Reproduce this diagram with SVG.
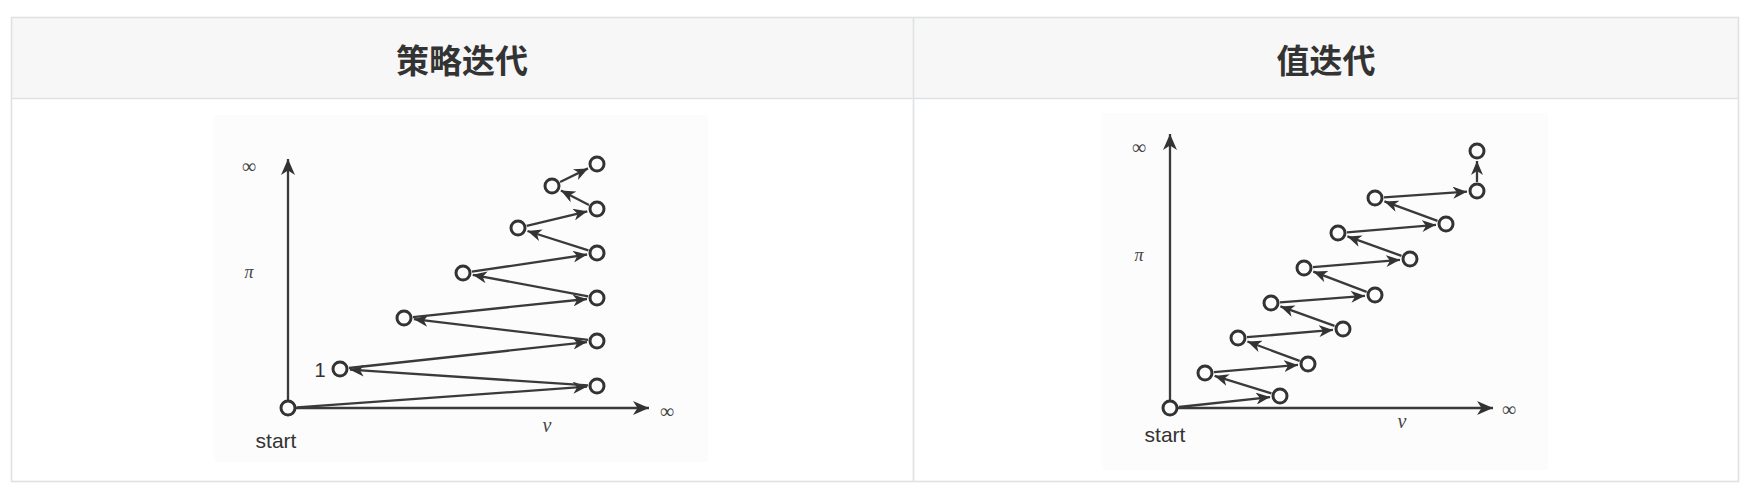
<svg xmlns="http://www.w3.org/2000/svg" width="1761" height="492" viewBox="0 0 1761 492">
<defs>
<style>
.tb{stroke:#dfe2e5;stroke-width:1.6;fill:none}
.hd{font-family:"Noto Sans CJK SC","Noto Sans",sans-serif;font-weight:bold;font-size:33px;fill:#333;text-anchor:middle;dominant-baseline:central}
.ax{stroke:#3a3a3a;stroke-width:2.3;fill:none}
.ed{stroke:#3a3a3a;stroke-width:2.3;fill:none}
.nd{fill:none;stroke:#333;stroke-width:3}
.ser{font-family:"Liberation Serif","DejaVu Serif",serif;fill:#444}
.sans{font-family:"Liberation Sans",Arial,sans-serif;fill:#333}
</style>
<marker id="ah" markerUnits="userSpaceOnUse" markerWidth="15" markerHeight="12" refX="14" refY="6" orient="auto" viewBox="0 0 15 12">
<path d="M0,0 L14,6 L0,12 L4,6 Z" fill="#333"/>
</marker>
<marker id="axh" markerUnits="userSpaceOnUse" markerWidth="17" markerHeight="14" refX="16" refY="7" orient="auto" viewBox="0 0 17 14">
<path d="M0,0 L16,7 L0,14 L4.5,7 Z" fill="#333"/>
</marker>
</defs>

<g id="table">
<rect x="11.5" y="17.5" width="1727" height="81" fill="#f7f7f7"/>
<rect x="11.5" y="98.5" width="1727" height="383" fill="#ffffff"/>
<rect x="214" y="115" width="494" height="347" fill="#fcfcfc"/>
<rect x="1102" y="113" width="446" height="357" fill="#fcfcfc"/>
<rect class="tb" x="11.5" y="17.5" width="1727" height="464"/>
<line class="tb" x1="11.5" y1="98.5" x2="1738.5" y2="98.5"/>
<line class="tb" x1="913.5" y1="17.5" x2="913.5" y2="481.5"/>
<text class="hd" x="462" y="59">策略迭代</text>
<text class="hd" x="1326" y="59">值迭代</text>
</g>

<g id="left-axes">
<line class="ax" x1="288" y1="400" x2="288" y2="159" marker-end="url(#axh)"/>
<line class="ax" x1="296" y1="408" x2="649" y2="408" marker-end="url(#axh)"/>
<text class="ser" x="249" y="173" font-size="20" text-anchor="middle">∞</text>
<text class="ser" x="249" y="278" font-size="18" font-style="italic" text-anchor="middle">π</text>
<text class="ser" x="667" y="418" font-size="20" text-anchor="middle">∞</text>
<text class="ser" x="547" y="432" font-size="20" font-style="italic" text-anchor="middle">v</text>
<text class="sans" x="276" y="448" font-size="21" text-anchor="middle">start</text>
<text class="sans" x="320" y="377" font-size="20" text-anchor="middle">1</text>
</g>

<g id="left-nodes">
<circle id="L-O" class="nd" cx="288" cy="408" r="7"/>
<circle id="L-R1" class="nd" cx="597" cy="386" r="7"/>
<circle id="L-N1" class="nd" cx="340" cy="369" r="7"/>
<circle id="L-R2" class="nd" cx="597" cy="341" r="7"/>
<circle id="L-L2" class="nd" cx="404" cy="318" r="7"/>
<circle id="L-R3" class="nd" cx="597" cy="298" r="7"/>
<circle id="L-L3" class="nd" cx="463" cy="273" r="7"/>
<circle id="L-R4" class="nd" cx="597" cy="253" r="7"/>
<circle id="L-L4" class="nd" cx="518" cy="228" r="7"/>
<circle id="L-R5" class="nd" cx="597" cy="209" r="7"/>
<circle id="L-L5" class="nd" cx="552" cy="186" r="7"/>
<circle id="L-R6" class="nd" cx="597" cy="164" r="7"/>
</g>

<g id="left-connectors">
<line class="ed" x1="297" y1="407.4" x2="587" y2="386.7" marker-end="url(#ah)"/>
<line class="ed" x1="588" y1="385.4" x2="350" y2="369.7" marker-end="url(#ah)"/>
<line class="ed" x1="349" y1="368" x2="587" y2="342.1" marker-end="url(#ah)"/>
<line class="ed" x1="588.1" y1="339.9" x2="413.9" y2="319.2" marker-end="url(#ah)"/>
<line class="ed" x1="413" y1="317.1" x2="587" y2="299" marker-end="url(#ah)"/>
<line class="ed" x1="588.2" y1="296.4" x2="472.8" y2="274.8" marker-end="url(#ah)"/>
<line class="ed" x1="471.9" y1="271.7" x2="587.1" y2="254.5" marker-end="url(#ah)"/>
<line class="ed" x1="588.4" y1="250.3" x2="527.5" y2="231" marker-end="url(#ah)"/>
<line class="ed" x1="526.7" y1="225.9" x2="587.3" y2="211.3" marker-end="url(#ah)"/>
<line class="ed" x1="589" y1="204.9" x2="560.9" y2="190.6" marker-end="url(#ah)"/>
<line class="ed" x1="560.1" y1="182" x2="588" y2="168.4" marker-end="url(#ah)"/>
</g>

<g id="right-axes">
<line class="ax" x1="1170" y1="400" x2="1170" y2="134" marker-end="url(#axh)"/>
<line class="ax" x1="1178" y1="408" x2="1493" y2="408" marker-end="url(#axh)"/>
<text class="ser" x="1139" y="154" font-size="20" text-anchor="middle">∞</text>
<text class="ser" x="1139" y="261" font-size="18" font-style="italic" text-anchor="middle">π</text>
<text class="ser" x="1509" y="416" font-size="20" text-anchor="middle">∞</text>
<text class="ser" x="1402" y="428" font-size="20" font-style="italic" text-anchor="middle">v</text>
<text class="sans" x="1165" y="442" font-size="21" text-anchor="middle">start</text>
</g>

<g id="right-nodes">
<circle id="R-O" class="nd" cx="1170" cy="408" r="7"/>
<circle id="R-A1" class="nd" cx="1280" cy="396" r="7"/>
<circle id="R-B1" class="nd" cx="1205" cy="373" r="7"/>
<circle id="R-A2" class="nd" cx="1308" cy="364" r="7"/>
<circle id="R-B2" class="nd" cx="1238" cy="338" r="7"/>
<circle id="R-A3" class="nd" cx="1343" cy="329" r="7"/>
<circle id="R-B3" class="nd" cx="1271" cy="303" r="7"/>
<circle id="R-A4" class="nd" cx="1375" cy="295" r="7"/>
<circle id="R-B4" class="nd" cx="1304" cy="268" r="7"/>
<circle id="R-A5" class="nd" cx="1410" cy="259" r="7"/>
<circle id="R-B5" class="nd" cx="1338" cy="233" r="7"/>
<circle id="R-A6" class="nd" cx="1446" cy="224" r="7"/>
<circle id="R-B6" class="nd" cx="1375" cy="198" r="7"/>
<circle id="R-A7" class="nd" cx="1477" cy="191" r="7"/>
<circle id="R-A8" class="nd" cx="1477" cy="151" r="7"/>
</g>

<g id="right-connectors">
<line class="ed" x1="1179" y1="407" x2="1270.1" y2="397.1" marker-end="url(#ah)"/>
<line class="ed" x1="1271.4" y1="393.4" x2="1214.6" y2="375.9" marker-end="url(#ah)"/>
<line class="ed" x1="1214" y1="372.2" x2="1298" y2="364.9" marker-end="url(#ah)"/>
<line class="ed" x1="1299.6" y1="360.9" x2="1247.4" y2="341.5" marker-end="url(#ah)"/>
<line class="ed" x1="1247" y1="337.2" x2="1333" y2="329.9" marker-end="url(#ah)"/>
<line class="ed" x1="1334.5" y1="325.9" x2="1280.4" y2="306.4" marker-end="url(#ah)"/>
<line class="ed" x1="1280" y1="302.3" x2="1365" y2="295.8" marker-end="url(#ah)"/>
<line class="ed" x1="1366.6" y1="291.8" x2="1313.3" y2="271.6" marker-end="url(#ah)"/>
<line class="ed" x1="1313" y1="267.2" x2="1400" y2="259.8" marker-end="url(#ah)"/>
<line class="ed" x1="1401.5" y1="255.9" x2="1347.4" y2="236.4" marker-end="url(#ah)"/>
<line class="ed" x1="1347" y1="232.3" x2="1436" y2="224.8" marker-end="url(#ah)"/>
<line class="ed" x1="1437.5" y1="220.9" x2="1384.4" y2="201.4" marker-end="url(#ah)"/>
<line class="ed" x1="1384" y1="197.4" x2="1467" y2="191.7" marker-end="url(#ah)"/>
<line class="ed" x1="1477" y1="182" x2="1477" y2="161" marker-end="url(#ah)"/>
</g>
</svg>
